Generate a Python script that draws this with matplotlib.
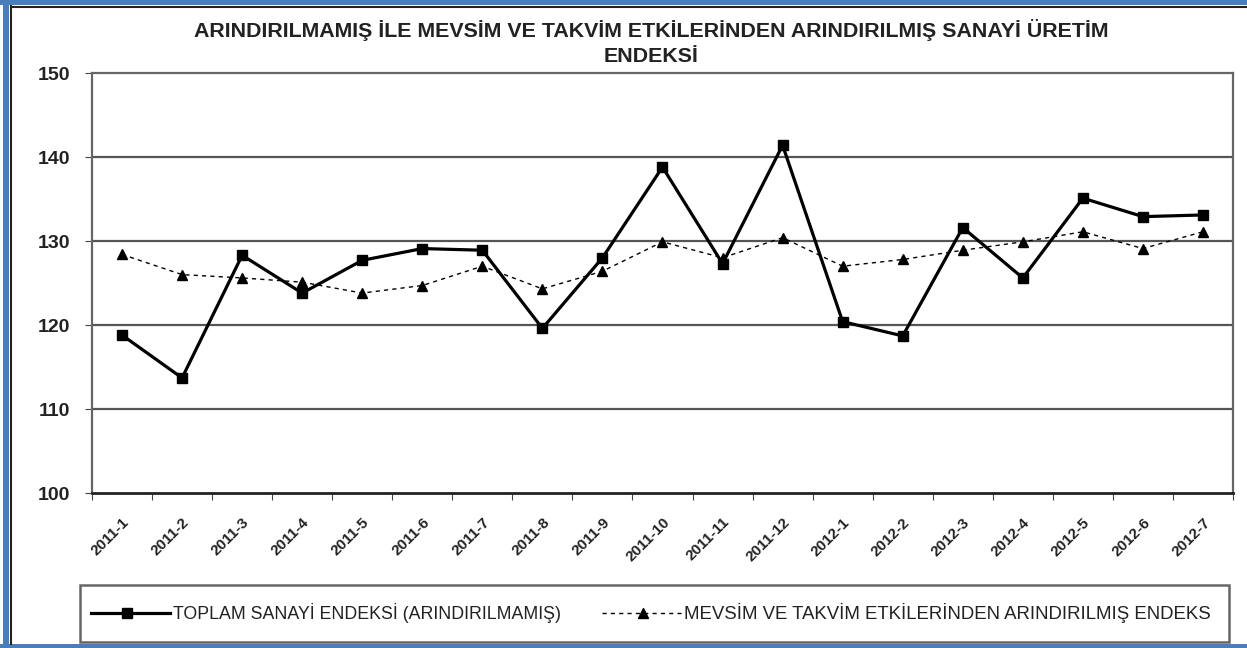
import matplotlib
matplotlib.use("Agg")
import matplotlib.pyplot as plt
from matplotlib.patches import Rectangle
from matplotlib.lines import Line2D

plt.rcParams['font.family'] = ['Liberation Sans', 'DejaVu Sans']

categories = ["2011-1", "2011-2", "2011-3", "2011-4", "2011-5", "2011-6", "2011-7",
              "2011-8", "2011-9", "2011-10", "2011-11", "2011-12", "2012-1", "2012-2",
              "2012-3", "2012-4", "2012-5", "2012-6", "2012-7"]
toplam = [118.8, 113.7, 128.3, 123.8, 127.7, 129.1, 128.9, 119.6, 128.0, 138.8,
          127.3, 141.4, 120.4, 118.7, 131.6, 125.6, 135.1, 132.9, 133.1]
arindirilmis = [128.4, 126.0, 125.6, 125.1, 123.8, 124.7, 127.0, 124.3, 126.4, 129.9,
                128.0, 130.4, 127.0, 127.8, 128.9, 129.9, 131.1, 129.1, 131.1]
yticks = [100, 110, 120, 130, 140, 150]
title_lines = ["ARINDIRILMAMIŞ İLE MEVSİM VE TAKVİM ETKİLERİNDEN ARINDIRILMIŞ SANAYİ ÜRETİM",
               "ENDEKSİ"]
legend_labels = ["TOPLAM SANAYİ ENDEKSİ (ARINDIRILMAMIŞ)",
                 "MEVSİM VE TAKVİM ETKİLERİNDEN ARINDIRILMIŞ ENDEKS"]

W, H = 1247, 648
fig = plt.figure(figsize=(W / 100, H / 100), dpi=100)
fig.patch.set_facecolor('white')

# plot area: x 92..1233, y 73..493 (pixels from top)
ax = fig.add_axes([92 / W, 1 - 493 / H, (1233 - 92) / W, (493 - 73) / H])
x = list(range(len(categories)))

ax.plot(x, arindirilmis, color='black', lw=1.0, ls=(0, (3, 3)), marker='^',
        markersize=7, markerfacecolor='black', markeredgecolor='black', zorder=3)
ax.plot(x, toplam, color='black', lw=2.3, marker='s', markersize=7,
        markerfacecolor='black', markeredgecolor='black', zorder=4)

ax.set_xlim(-0.5, len(categories) - 0.5)
ax.set_ylim(100, 150)
ax.set_yticks(yticks)
ax.set_yticklabels([str(v) for v in yticks], fontsize=14, fontweight='bold', color='#222222')
for v in yticks[1:-1]:
    ax.axhline(v, color='#555555', lw=1.6, zorder=1)

ax.set_xticks([i - 0.5 for i in range(len(categories) + 1)])
ax.set_xticklabels([])
ax.set_xticks(x, minor=True)
ax.set_xticklabels(categories, minor=True, rotation=45, ha='right',
                   rotation_mode='anchor', fontsize=11, fontweight='bold', color='#222222')
ax.tick_params(axis='x', which='minor', length=0, pad=16)
ax.tick_params(axis='x', which='major', direction='out', length=5, color='#444444')
ax.tick_params(axis='y', direction='out', length=5, color='#444444', pad=11)

for s in ax.spines.values():
    s.set_color('#666666')
    s.set_linewidth(1.6)
ax.spines['bottom'].set_color('#222222')
ax.spines['bottom'].set_linewidth(2.0)

fig.text(651 / W, 1 - 30 / H, title_lines[0], ha='center', va='center', fontsize=15.4,
         fontweight='bold', color='#222222')
fig.text(651 / W, 1 - 56 / H, title_lines[1], ha='center', va='center', fontsize=15.4,
         fontweight='bold', color='#222222')

# legend box
lb = Rectangle((80 / W, 1 - 642 / H), (1229 - 80) / W, (642 - 585) / H,
               transform=fig.transFigure, fill=False, edgecolor='#666666', lw=1.8)
fig.add_artist(lb)
ly = 1 - 613 / H
fig.add_artist(Line2D([91 / W, 170 / W], [ly, ly], transform=fig.transFigure,
                      color='black', lw=2.3))
fig.add_artist(Line2D([127 / W], [ly], transform=fig.transFigure, marker='s',
                      markersize=7, color='black', lw=0))
fig.text(173 / W, ly, legend_labels[0], ha='left', va='center', fontsize=12.8, color='#222222')
fig.add_artist(Line2D([602 / W, 681 / W], [ly, ly], transform=fig.transFigure,
                      color='black', lw=1.0, ls=(0, (3, 3))))
fig.add_artist(Line2D([643 / W], [ly], transform=fig.transFigure, marker='^',
                      markersize=7, color='black', lw=0))
fig.text(684 / W, ly, legend_labels[1], ha='left', va='center', fontsize=13.4, color='#222222')

# outer frame (blue) and inner dark line
blue = '#4a7ebb'
fig.add_artist(Rectangle((0, 1 - 5 / H), 1, 5 / H, transform=fig.transFigure,
                         color=blue, lw=0))
fig.add_artist(Rectangle((3 / W, 0), 6 / W, 1, transform=fig.transFigure,
                         color=blue, lw=0))
fig.add_artist(Rectangle((0, 0), 1, 4 / H, transform=fig.transFigure,
                         color=blue, lw=0))
fig.add_artist(Line2D([11 / W, 11 / W], [4 / H, 1 - 6 / H], transform=fig.transFigure,
                      color='#222222', lw=1.5))
fig.add_artist(Line2D([11 / W, 1], [1 - 6.5 / H, 1 - 6.5 / H], transform=fig.transFigure,
                      color='#222222', lw=1.5))

fig.savefig('out.png', dpi=100, facecolor='white')
